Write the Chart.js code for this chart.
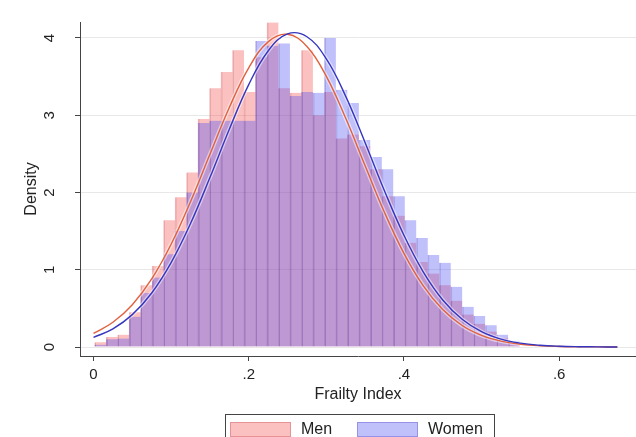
<!DOCTYPE html>
<html>
<head>
<meta charset="utf-8">
<script src="https://cdn.jsdelivr.net/npm/chart.js@4.4.0/dist/chart.umd.min.js"></script>
<style>
  html, body { margin: 0; padding: 0; background: #fff; overflow: hidden; }
  #wrap { width: 636px; height: 437px; overflow: hidden; }
</style>
</head>
<body>
<div id="wrap"><canvas id="chart" width="636" height="446"></canvas></div>
<script>
// histogram bins (frailty index)
const binStart = 0.0015;
const binWidth = 0.0148;

const menDensity = [0.06, 0.13, 0.16, 0.45, 0.80, 1.05, 1.64, 1.94, 2.26, 2.95,
                    3.35, 3.56, 3.84, 3.30, 3.75, 4.20, 3.35, 3.29, 3.84, 3.00,
                    3.30, 2.70, 2.75, 2.60, 2.30, 1.95, 1.70, 1.35, 1.10, 0.95,
                    0.80, 0.60, 0.42, 0.30, 0.20, 0.12, 0.06];
const womenDensity = [0.03, 0.10, 0.11, 0.39, 0.70, 0.90, 1.20, 1.50, 2.00, 2.90,
                      2.93, 2.93, 2.93, 2.93, 3.96, 3.90, 3.93, 3.25, 3.30, 3.29,
                      4.00, 3.33, 3.16, 2.68, 2.46, 2.30, 1.95, 1.64, 1.41, 1.19,
                      1.09, 0.78, 0.52, 0.40, 0.28, 0.16, 0.08];

// normal density overlays
const curveX = [0, 0.025, 0.05, 0.075, 0.1, 0.125, 0.15, 0.175, 0.2, 0.225,
                0.25, 0.275, 0.3, 0.325, 0.35, 0.375, 0.4, 0.425, 0.45, 0.475,
                0.5, 0.525, 0.55, 0.575, 0.6, 0.625, 0.65, 0.675];
const menNormal = [0.175, 0.320, 0.548, 0.882, 1.330, 1.881, 2.494, 3.100, 3.614, 3.950,
                   4.048, 3.890, 3.504, 2.960, 2.345, 1.741, 1.212, 0.791, 0.484, 0.278,
                   0.150, 0.076, 0.036, 0.016, 0.007, 0.003, 0.001, 0.0003];
const womenNormal = [0.124, 0.235, 0.419, 0.699, 1.092, 1.598, 2.193, 2.819, 3.396, 3.832,
                     4.053, 4.016, 3.729, 3.244, 2.645, 2.020, 1.446, 0.970, 0.609, 0.359,
                     0.198, 0.102, 0.050, 0.023, 0.010, 0.004, 0.0014, 0.0005];

const seriesNames = ['Men', 'Women'];
const xTicks = [0, 0.2, 0.4, 0.6];
const yTicks = [0, 1, 2, 3, 4];

const menFill = 'rgba(245, 80, 80, 0.36)';
const womenFill = 'rgba(80, 80, 245, 0.36)';
const menEdge = 'rgba(190, 50, 60, 0.32)';
const womenEdge = 'rgba(60, 50, 190, 0.32)';
const haloColor = 'rgba(255, 255, 255, 0.5)';
const textColor = '#222';
const axisColor = '#444';
const fontFamily = '"Liberation Sans", Arial, Helvetica, sans-serif';

function binPoints(values) {
    return values.map((v, i) => ({ x: binStart + (i + 0.5) * binWidth, y: v }));
}
function curvePoints(values) {
    return values.map((v, i) => ({ x: curveX[i], y: v }));
}
function curveLine(label, values, color, width) {
    return {
        type: 'line', label: label, data: curvePoints(values),
        borderColor: color, borderWidth: width, pointRadius: 0, tension: 0.4, fill: false
    };
}
function barSet(label, values, fill, edge) {
    return {
        label: label, data: binPoints(values), grouped: false,
        backgroundColor: fill, borderColor: edge,
        borderWidth: { left: 1, top: 0, right: 0, bottom: 0 }, borderSkipped: false,
        barPercentage: 1, categoryPercentage: 1
    };
}

// rotated y labels, axis titles and the boxed legend
const stataText = {
    id: 'stataText',
    afterDraw(chart) {
        const ctx = chart.ctx;
        const area = chart.chartArea;
        const yScale = chart.scales.y;
        ctx.save();
        ctx.fillStyle = textColor;
        ctx.textAlign = 'center';
        ctx.textBaseline = 'middle';

        ctx.font = '15px ' + fontFamily;
        yTicks.forEach(v => {
            ctx.save();
            ctx.translate(50, yScale.getPixelForValue(v));
            ctx.rotate(-Math.PI / 2);
            ctx.fillText(String(v), 0, 0);
            ctx.restore();
        });

        ctx.font = '16px ' + fontFamily;
        ctx.save();
        ctx.translate(32, (area.top + area.bottom) / 2);
        ctx.rotate(-Math.PI / 2);
        ctx.fillText('Density', 0, 0);
        ctx.restore();

        ctx.fillText('Frailty Index', (area.left + area.right) / 2, 395);

        // legend
        ctx.strokeStyle = axisColor;
        ctx.lineWidth = 1;
        ctx.strokeRect(225.5, 414.5, 269, 30);
        const swatchX = [230, 357];
        const fills = [menFill, womenFill];
        const edges = [menEdge, womenEdge];
        ctx.textAlign = 'left';
        seriesNames.forEach((name, i) => {
            ctx.fillStyle = fills[i];
            ctx.fillRect(swatchX[i], 422, 61, 15);
            ctx.strokeStyle = edges[i];
            ctx.strokeRect(swatchX[i] + 0.5, 422.5, 60, 14);
            ctx.fillStyle = textColor;
            ctx.fillText(name, swatchX[i] + 71, 430);
        });
        ctx.restore();
    }
};

new Chart(document.getElementById('chart'), {
    type: 'bar',
    data: {
        datasets: [
            curveLine('Women normal', womenNormal, '#3535c0', 1.4),
            curveLine('Men normal', menNormal, '#e0603e', 1.4),
            curveLine('', womenNormal, haloColor, 4),
            curveLine('', menNormal, haloColor, 4),
            barSet(seriesNames[1], womenDensity, womenFill, womenEdge),
            barSet(seriesNames[0], menDensity, menFill, menEdge)
        ]
    },
    options: {
        responsive: false,
        animation: false,
        layout: { padding: { top: 22, left: 0, right: 0, bottom: 0 } },
        plugins: { legend: { display: false }, tooltip: { enabled: false } },
        scales: {
            x: {
                type: 'linear',
                min: -0.0174,
                max: 0.699,
                offset: false,
                afterBuildTicks: scale => { scale.ticks = xTicks.map(v => ({ value: v })); },
                afterFit: scale => { scale.height = 90; },
                grid: { offset: false, drawOnChartArea: false, tickLength: 5, tickColor: axisColor },
                border: { color: axisColor, width: 1 },
                ticks: {
                    color: textColor,
                    font: { family: fontFamily, size: 15 },
                    padding: 5,
                    maxRotation: 0,
                    callback: v => v === 0 ? '0' : String(v).replace(/^0/, '')
                }
            },
            y: {
                min: -0.1165,
                max: 4.207,
                afterBuildTicks: scale => { scale.ticks = yTicks.map(v => ({ value: v })); },
                afterFit: scale => { scale.width = 80; },
                grid: { color: '#e8e8e8', tickLength: 5, tickColor: axisColor },
                border: { color: axisColor, width: 1 },
                ticks: { display: false }
            }
        }
    },
    plugins: [stataText]
});
</script>
</body>
</html>
